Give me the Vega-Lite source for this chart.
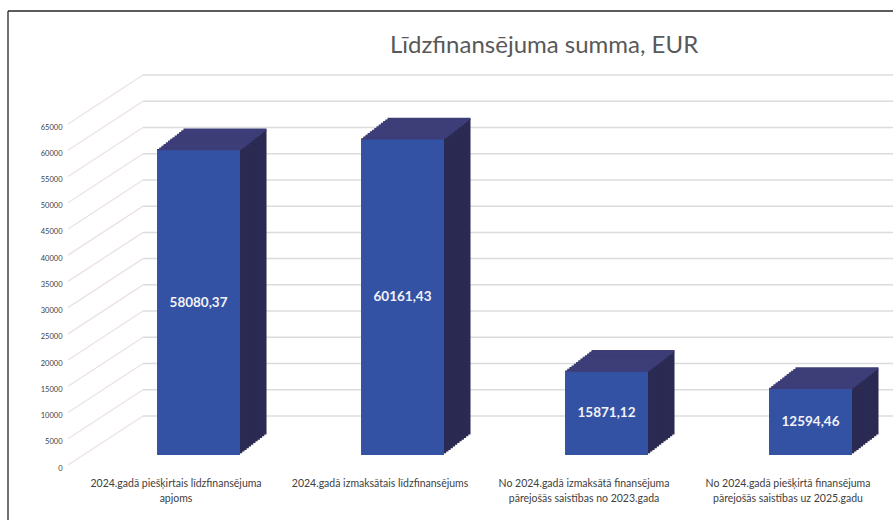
{
  "$schema": "https://vega.github.io/schema/vega-lite/v6.json",
  "width": 885.5,
  "height": 509.5,
  "autosize": "none",
  "padding": {"left": 7.5, "top": 10.5, "right": 0, "bottom": 0},
  "background": "white",
  "title": {"text": "Līdzfinansējuma summa, EUR", "anchor": "start", "frame": "group", "dx": 382.5, "dy": 66, "offset": 0, "baseline": "alphabetic", "font": "Lato", "fontSize": 24, "fontWeight": "normal", "color": "#595959"},
  "datasets": {
    "bars": [
      {"cat": "2024.gadā piešķirtais līdzfinansējuma\napjoms", "v": 58080.37},
      {"cat": "2024.gadā izmaksātais līdzfinansējums", "v": 60161.43},
      {"cat": "No 2024.gadā izmaksātā finansējuma\npārejošās saistības no 2023.gada", "v": 15871.12},
      {"cat": "No 2024.gadā piešķirtā finansējuma\npārejošās saistības uz 2025.gadu", "v": 12594.46}
    ],
    "grid": [{"g": 0}, {"g": 5000}, {"g": 10000}, {"g": 15000}, {"g": 20000}, {"g": 25000}, {"g": 30000}, {"g": 35000}, {"g": 40000}, {"g": 45000}, {"g": 50000}, {"g": 55000}, {"g": 60000}, {"g": 65000}]
  },
  "data": {"name": "bars"},
  "layer": [
    {
      "data": {"values": [{}]},
      "mark": {"type": "rule", "opacity": 0, "strokeWidth": 0},
      "encoding": {
        "y": {"datum": 87207, "type": "quantitative", "title": null, "scale": {"domain": [-9912, 87207], "nice": false, "zero": false},
          "axis": {"orient": "left", "offset": 0, "labels": false, "ticks": false, "grid": true, "values": [87207], "gridColor": "#262626", "gridWidth": 1.3, "gridOpacity": 1, "domain": true, "domainColor": "#262626", "domainWidth": 1.3, "title": null}}
      }
    },
    {
      "data": {"name": "grid"},
      "mark": {"type": "rule", "color": "#ede2e2", "strokeWidth": 1.3, "xOffset": -108, "x2Offset": -33, "yOffset": -3, "y2Offset": -52},
      "encoding": {
        "x": {"datum": "2024.gadā piešķirtais līdzfinansējuma\napjoms", "type": "nominal", "title": null, "scale": {"domain": ["2024.gadā piešķirtais līdzfinansējuma\napjoms", "2024.gadā izmaksātais līdzfinansējums", "No 2024.gadā izmaksātā finansējuma\npārejošās saistības no 2023.gada", "No 2024.gadā piešķirtā finansējuma\npārejošās saistības uz 2025.gadu"], "paddingInner": 0, "paddingOuter": 0.1704, "align": 0.957}},
        "x2": {"datum": "2024.gadā piešķirtais līdzfinansējuma\napjoms"},
        "y": {"field": "g", "type": "quantitative", "title": null, "scale": {"domain": [-9912, 87207], "nice": false, "zero": false}, "axis": null},
        "y2": {"field": "g"}
      }
    },
    {
      "data": {"name": "grid"},
      "mark": {"type": "rule", "color": "#dcdcdc", "strokeWidth": 1.5, "xOffset": -33, "x2Offset": 112, "yOffset": -52, "y2Offset": -52},
      "encoding": {
        "x": {"datum": "2024.gadā piešķirtais līdzfinansējuma\napjoms", "type": "nominal", "title": null, "scale": {"domain": ["2024.gadā piešķirtais līdzfinansējuma\napjoms", "2024.gadā izmaksātais līdzfinansējums", "No 2024.gadā izmaksātā finansējuma\npārejošās saistības no 2023.gada", "No 2024.gadā piešķirtā finansējuma\npārejošās saistības uz 2025.gadu"], "paddingInner": 0, "paddingOuter": 0.1704, "align": 0.957}},
        "x2": {"datum": "No 2024.gadā piešķirtā finansējuma\npārejošās saistības uz 2025.gadu"},
        "y": {"field": "g", "type": "quantitative", "title": null, "scale": {"domain": [-9912, 87207], "nice": false, "zero": false},
          "axis": {"orient": "left", "offset": -58.5, "values": [0, 5000, 10000, 15000, 20000, 25000, 30000, 35000, 40000, 45000, 50000, 55000, 60000, 65000], "format": "d", "domain": false, "ticks": false, "grid": false, "labelPadding": 4, "labelFontSize": 7.5, "labelColor": "#404040", "labelFont": "Lato", "title": null}},
        "y2": {"field": "g"}
      }
    },
    {
      "encoding": {
        "x": {"field": "cat", "type": "nominal", "sort": null, "title": null,
          "scale": {"domain": ["2024.gadā piešķirtais līdzfinansējuma\napjoms", "2024.gadā izmaksātais līdzfinansējums", "No 2024.gadā izmaksātā finansējuma\npārejošās saistības no 2023.gada", "No 2024.gadā piešķirtā finansējuma\npārejošās saistības uz 2025.gadu"], "paddingInner": 0, "paddingOuter": 0.1704, "align": 0.957},
          "axis": {"orient": "bottom", "offset": -50, "domain": false, "ticks": false, "grid": false, "labelAngle": 0, "labelPadding": 8, "labelFontSize": 10.5, "labelColor": "#404040", "labelFont": "Lato", "labelLineHeight": 15, "labelLimit": 400, "labelBaseline": "top", "labelAlign": "center", "labelExpr": "split(datum.label, '\\n')", "title": null}},
        "y": {"field": "v", "type": "quantitative", "title": null, "scale": {"domain": [-9912, 87207], "nice": false, "zero": false}, "axis": null}
      },
      "layer": [
        {"mark": {"type": "bar", "width": 83, "color": "#2b2a52", "xOffset": 49.0, "yOffset": -33.5}},
        {"mark": {"type": "bar", "width": 83, "color": "#2b2a52", "xOffset": 46.79, "yOffset": -31.79}},
        {"mark": {"type": "bar", "width": 83, "color": "#2b2a52", "xOffset": 44.58, "yOffset": -30.08}},
        {"mark": {"type": "bar", "width": 83, "color": "#2b2a52", "xOffset": 42.37, "yOffset": -28.37}},
        {"mark": {"type": "bar", "width": 83, "color": "#2b2a52", "xOffset": 40.17, "yOffset": -26.67}},
        {"mark": {"type": "bar", "width": 83, "color": "#2b2a52", "xOffset": 37.96, "yOffset": -24.96}},
        {"mark": {"type": "bar", "width": 83, "color": "#2b2a52", "xOffset": 35.75, "yOffset": -23.25}},
        {"mark": {"type": "bar", "width": 83, "color": "#2b2a52", "xOffset": 33.54, "yOffset": -21.54}},
        {"mark": {"type": "bar", "width": 83, "color": "#2b2a52", "xOffset": 31.33, "yOffset": -19.83}},
        {"mark": {"type": "bar", "width": 83, "color": "#2b2a52", "xOffset": 29.12, "yOffset": -18.12}},
        {"mark": {"type": "bar", "width": 83, "color": "#2b2a52", "xOffset": 26.92, "yOffset": -16.42}},
        {"mark": {"type": "bar", "width": 83, "color": "#2b2a52", "xOffset": 24.71, "yOffset": -14.71}},
        {"mark": {"type": "tick", "size": 83, "thickness": 2.4, "opacity": 1, "color": "#3d3d78", "xOffset": 49.0, "yOffset": -33.5}},
        {"mark": {"type": "tick", "size": 83, "thickness": 2.4, "opacity": 1, "color": "#3d3d78", "xOffset": 46.79, "yOffset": -31.79}},
        {"mark": {"type": "tick", "size": 83, "thickness": 2.4, "opacity": 1, "color": "#3d3d78", "xOffset": 44.58, "yOffset": -30.08}},
        {"mark": {"type": "tick", "size": 83, "thickness": 2.4, "opacity": 1, "color": "#3d3d78", "xOffset": 42.37, "yOffset": -28.37}},
        {"mark": {"type": "tick", "size": 83, "thickness": 2.4, "opacity": 1, "color": "#3d3d78", "xOffset": 40.17, "yOffset": -26.67}},
        {"mark": {"type": "tick", "size": 83, "thickness": 2.4, "opacity": 1, "color": "#3d3d78", "xOffset": 37.96, "yOffset": -24.96}},
        {"mark": {"type": "tick", "size": 83, "thickness": 2.4, "opacity": 1, "color": "#3d3d78", "xOffset": 35.75, "yOffset": -23.25}},
        {"mark": {"type": "tick", "size": 83, "thickness": 2.4, "opacity": 1, "color": "#3d3d78", "xOffset": 33.54, "yOffset": -21.54}},
        {"mark": {"type": "tick", "size": 83, "thickness": 2.4, "opacity": 1, "color": "#3d3d78", "xOffset": 31.33, "yOffset": -19.83}},
        {"mark": {"type": "tick", "size": 83, "thickness": 2.4, "opacity": 1, "color": "#3d3d78", "xOffset": 29.12, "yOffset": -18.12}},
        {"mark": {"type": "tick", "size": 83, "thickness": 2.4, "opacity": 1, "color": "#3d3d78", "xOffset": 26.92, "yOffset": -16.42}},
        {"mark": {"type": "tick", "size": 83, "thickness": 2.4, "opacity": 1, "color": "#3d3d78", "xOffset": 24.71, "yOffset": -14.71}},
        {"mark": {"type": "tick", "size": 83, "thickness": 2.4, "opacity": 1, "color": "#3d3d78", "xOffset": 22.5, "yOffset": -13}},
        {"mark": {"type": "bar", "width": 83, "color": "#3452a4", "xOffset": 22.5, "yOffset": -13}}
      ]
    },
    {
      "mark": {"type": "text", "font": "Lato", "fontWeight": "bold", "fontSize": 13.5, "color": "#f2f2f8", "xOffset": 22.5, "yOffset": -13, "align": "center", "baseline": "middle"},
      "encoding": {
        "x": {"field": "cat", "type": "nominal", "sort": null, "title": null,
          "scale": {"domain": ["2024.gadā piešķirtais līdzfinansējuma\napjoms", "2024.gadā izmaksātais līdzfinansējums", "No 2024.gadā izmaksātā finansējuma\npārejošās saistības no 2023.gada", "No 2024.gadā piešķirtā finansējuma\npārejošās saistības uz 2025.gadu"], "paddingInner": 0, "paddingOuter": 0.1704, "align": 0.957}},
        "y": {"field": "v", "type": "quantitative", "title": null, "scale": {"domain": [-19824, 174414], "nice": false, "zero": false}, "axis": null},
        "text": {"field": "v", "type": "quantitative", "format": ".2f"}
      }
    }
  ],
  "resolve": {"scale": {"y": "independent"}},
  "config": {
    "view": {"stroke": null},
    "font": "Lato",
    "locale": {"number": {"decimal": ",", "thousands": " ", "grouping": [3], "currency": ["", " €"]}}
  }
}
